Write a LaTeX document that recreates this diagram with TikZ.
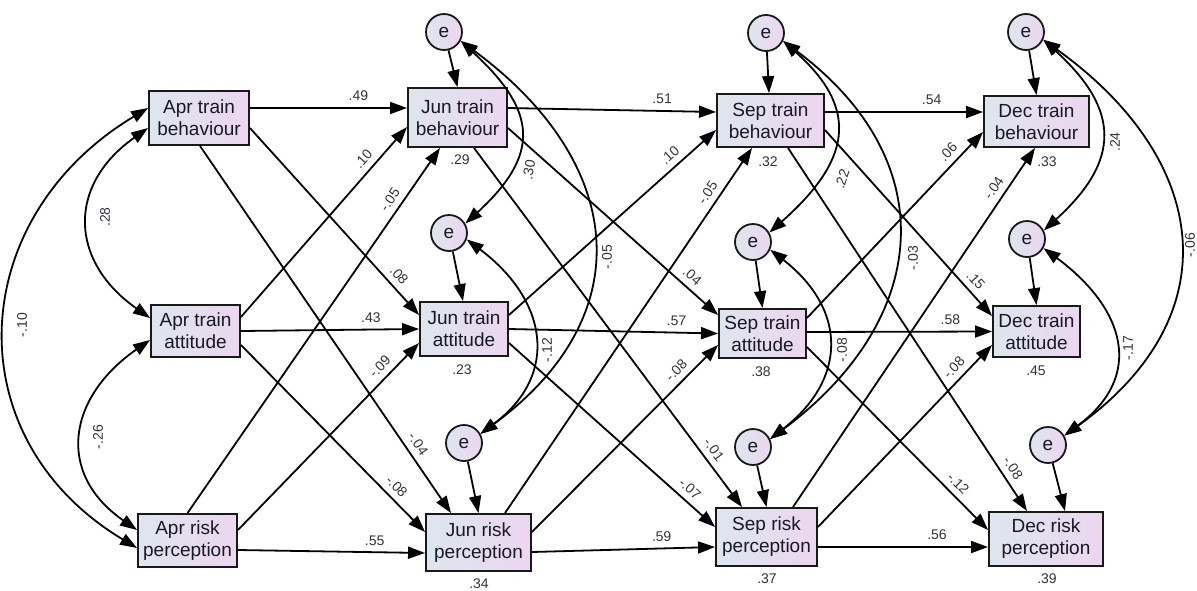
\documentclass[tikz,border=0pt]{standalone}
\usepackage{fontspec}
\setmainfont{Liberation Sans}
\usetikzlibrary{arrows.meta}
\definecolor{boxL}{RGB}{222,230,238}
\definecolor{boxR}{RGB}{236,214,240}
\definecolor{labc}{RGB}{50,50,62}
\definecolor{txt}{RGB}{25,25,35}
\begin{document}
\begin{tikzpicture}[x=1pt,y=-1pt,
  box/.style={draw=black!90, line width=1.9pt, left color=boxL, right color=boxR, align=center, inner sep=0pt, text=txt, font=\fontsize{19}{22}\selectfont},
  err/.style={circle, draw=black!90, line width=1.8pt, left color=boxL, right color=boxR, minimum size=36pt, inner sep=0pt, text=txt, font=\fontsize{19}{22}\selectfont},
  arr/.style={line width=1.8pt, -{Triangle[length=17pt,width=12pt]}},
  cov/.style={line width=1.8pt, {Triangle[length=17pt,width=12pt]}-{Triangle[length=17pt,width=12pt]}},
  lab/.style={font=\fontsize{14}{16}\selectfont, text=labc, inner sep=1pt},
  el/.style={lab, sloped, above=5pt},
]
\useasboundingbox (0,0) rectangle (1197,590);

% boxes
\node[box, minimum width=100pt, minimum height=54pt] (aTB) at (199,118) {Apr train\\behaviour};
\node[box, minimum width=89pt, minimum height=52pt] (aTA) at (195.5,331) {Apr train\\attitude};
\node[box, minimum width=99pt, minimum height=53pt] (aRP) at (187.5,540.5) {Apr risk\\perception};
\node[box, minimum width=99pt, minimum height=59pt] (jTB) at (457.5,117.5) {Jun train\\behaviour};
\node[box, minimum width=88pt, minimum height=54pt] (jTA) at (464,329) {Jun train\\attitude};
\node[box, minimum width=105pt, minimum height=57pt] (jRP) at (478.5,542.5) {Jun risk\\perception};
\node[box, minimum width=107pt, minimum height=53pt] (sTB) at (770.5,120.5) {Sep train\\behaviour};
\node[box, minimum width=87pt, minimum height=49pt] (sTA) at (762.5,333.5) {Sep train\\attitude};
\node[box, minimum width=101pt, minimum height=58pt] (sRP) at (766.5,537) {Sep risk\\perception};
\node[box, minimum width=105pt, minimum height=51pt] (dTB) at (1036.5,121.5) {Dec train\\behaviour};
\node[box, minimum width=87pt, minimum height=51pt] (dTA) at (1036.5,331.5) {Dec train\\attitude};
\node[box, minimum width=114pt, minimum height=54pt] (dRP) at (1046,539) {Dec risk\\perception};

% error terms
\node[err] (je1) at (444,32) {e};
\node[err] (je2) at (449,233) {e};
\node[err] (je3) at (464,443) {e};
\node[err] (se1) at (766,33) {e};
\node[err] (se2) at (753,242) {e};
\node[err] (se3) at (753,447) {e};
\node[err] (de1) at (1026,32) {e};
\node[err] (de2) at (1027,239) {e};
\node[err] (de3) at (1048,445) {e};

% Apr -> Jun
\draw[arr] ([yshift=10pt]aTB.east) -- node[el,pos=.69]{.49} ([yshift=9.5pt]jTB.west);
\draw[arr] ([yshift=-10pt]aTB.east) -- node[el,pos=.83]{.08} ([yshift=14pt]jTA.west);
\draw[arr] ([xshift=1pt]aTB.south) -- node[el,pos=.83]{-.04} ([xshift=-27.5pt]jRP.north);
\draw[arr] ([yshift=14pt]aTA.east) -- node[el,pos=.79]{.10} ([yshift=-9.5pt]jTB.west);
\draw[arr] (aTA.east) -- node[el,pos=.73]{.43} (jTA.west);
\draw[arr] ([yshift=-14pt]aTA.east) -- node[el,pos=.80]{-.08} ([yshift=10.5pt]jRP.west);
\draw[arr] (aRP.north) -- node[el,pos=.84]{-.05} ([xshift=-17.5pt]jTB.south);
\draw[arr] ([yshift=10.5pt]aRP.east) -- node[el,pos=.83]{-.09} ([yshift=-14pt]jTA.west);
\draw[arr] ([yshift=-9.5pt]aRP.east) -- node[el,pos=.73]{.55} ([yshift=-10.5pt]jRP.west);

% Jun -> Sep
\draw[arr] ([yshift=9.5pt]jTB.east) -- node[el,pos=.74]{.51} ([yshift=8.5pt]sTB.west);
\draw[arr] ([yshift=-10.5pt]jTB.east) -- node[el,pos=.84]{.04} ([yshift=18.5pt]sTA.west);
\draw[arr] ([xshift=16.5pt]jTB.south) -- node[el,pos=.86]{-.01} ([xshift=-24.5pt]sRP.north);
\draw[arr] ([yshift=14pt]jTA.east) -- node[el,pos=.815]{.10} ([yshift=-9.5pt]sTB.west);
\draw[arr] (jTA.east) -- node[el,pos=.80]{.57} (sTA.west);
\draw[arr] ([yshift=-14pt]jTA.east) -- node[el,pos=.84]{-.07} ([yshift=10pt]sRP.west);
\draw[arr] ([xshift=26.5pt]jRP.north) -- node[el,pos=.86]{-.05} ([xshift=-18.5pt]sTB.south);
\draw[arr] ([yshift=10.5pt]jRP.east) -- node[el,pos=.82]{-.08} ([yshift=-11.5pt]sTA.west);
\draw[arr] ([yshift=-9.5pt]jRP.east) -- node[el,pos=.71]{.59} ([yshift=-10pt]sRP.west);

% Sep -> Dec
\draw[arr] ([yshift=8.5pt]sTB.east) -- node[el,pos=.675]{.54} ([yshift=9.5pt]dTB.west);
\draw[arr] ([yshift=-9.5pt]sTB.east) -- node[el,pos=.85]{.15} ([yshift=15.5pt]dTA.west);
\draw[arr] ([xshift=17.5pt]sTB.south) -- node[el,pos=.90]{-.08} ([xshift=-19pt]dRP.north);
\draw[arr] ([yshift=15.5pt]sTA.east) -- node[el,pos=.85]{.06} ([yshift=-10.5pt]dTB.west);
\draw[arr] ([yshift=1.5pt]sTA.east) -- node[el,pos=.775]{.58} (dTA.west);
\draw[arr] ([yshift=-13.5pt]sTA.east) -- node[el,pos=.79]{-.12} ([yshift=9pt]dRP.west);
\draw[arr] ([xshift=26.5pt]sRP.north) -- node[el,pos=.87]{-.04} ([xshift=-1.5pt]dTB.south);
\draw[arr] ([yshift=10pt]sRP.east) -- node[el,pos=.83]{-.08} ([yshift=-13.5pt]dTA.west);
\draw[arr] ([yshift=-10pt]sRP.east) -- node[el,pos=.70]{.56} ([yshift=-8pt]dRP.west);

% error -> box
\draw[arr] (je1) -- (jTB.north);
\draw[arr] (je2) -- ([xshift=-1pt]jTA.north);
\draw[arr] (je3) -- (jRP.north);
\draw[arr] (se1) -- ([xshift=-1.5pt]sTB.north);
\draw[arr] (se2) -- (sTA.north);
\draw[arr] (se3) -- (sRP.north);
\draw[arr] (de1) -- (dTB.north);
\draw[arr] (de2) -- (dTA.north);
\draw[arr] (de3) -- ([xshift=19pt]dRP.north);

% covariances Apr
\draw[cov] ([yshift=-10pt]aTB.west) .. controls +(-81,57) and +(-81,-57) .. ([yshift=13pt]aTA.west);
\draw[cov] ([yshift=-9pt]aTA.west) .. controls +(-82,57) and +(-82,-57) .. ([yshift=10.5pt]aRP.west);
\draw[cov] ([yshift=10pt]aTB.west) .. controls +(-183,110) and +(-183,-110) .. ([yshift=-7.5pt]aRP.west);
% covariances Jun
\draw[cov] (je1.-28) .. controls +(76,70) and +(76,-70) .. (je2.30);
\draw[cov] (je1.-28) .. controls +(163,120) and +(163,-120) .. (je3.29);
\draw[cov] (je2.-20) .. controls +(80,60) and +(80,-60) .. (je3.29);
% covariances Sep
\draw[cov] (se1.-25) .. controls +(79,70) and +(79,-70) .. (se2.30);
\draw[cov] (se1.-25) .. controls +(161,120) and +(161,-120) .. (se3.25);
\draw[cov] (se2.-24) .. controls +(77,60) and +(77,-60) .. (se3.25);
% covariances Dec
\draw[cov] (de1.-24) .. controls +(77,70) and +(77,-70) .. (de2.27);
\draw[cov] (de1.-24) .. controls +(167,120) and +(167,-120) .. (de3.30);
\draw[cov] (de2.-29) .. controls +(81,60) and +(81,-60) .. (de3.30);

% covariance labels
\node[lab, rotate=90] (c1) at (105,217) {.28};
\node[lab, rotate=90] (c2) at (22,325) {-.10};
\node[lab, rotate=90] (c3) at (98,437) {-.26};
\node[lab, rotate=80] (c4) at (529,170) {.30};
\node[lab, rotate=90] (c5) at (607,257) {-.05};
\node[lab, rotate=90] (c6) at (547,350) {-.12};
\node[lab, rotate=72] (c7) at (842,179) {.22};
\node[lab, rotate=90] (c8) at (913,258) {-.03};
\node[lab, rotate=90] (c9) at (842,350) {-.08};
\node[lab, rotate=90] (c10) at (1115,142) {.24};
\node[lab, rotate=90] (c11) at (1190,245) {-.06};
\node[lab, rotate=90] (c12) at (1128,348) {-.17};

% squared multiple correlations
\node[lab] (r1) at (460,160) {.29};
\node[lab] (r2) at (768,162) {.32};
\node[lab] (r3) at (1047,162) {.33};
\node[lab] (r4) at (462,370) {.23};
\node[lab] (r5) at (761,372) {.38};
\node[lab] (r6) at (1036,371) {.45};
\node[lab] (r7) at (479,584) {.34};
\node[lab] (r8) at (767,579) {.37};
\node[lab] (r9) at (1047,579) {.39};
\end{tikzpicture}
\end{document}
